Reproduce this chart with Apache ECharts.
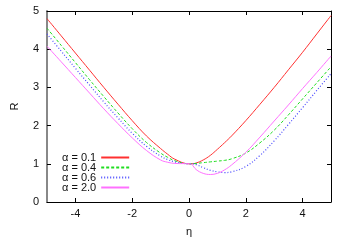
<!DOCTYPE html>
<html>
<head>
<meta charset="utf-8">
<script src="https://cdn.jsdelivr.net/npm/echarts@6/dist/echarts.min.js"></script>
<style>html,body{margin:0;padding:0;background:#fff}#c{width:346px;height:242px}</style>
</head>
<body>
<div id="c"></div>
<script>
const eta = [-5,-4.5,-4,-3.5,-3,-2.5,-2,-1.5,-1,-0.75,-0.5,0,0.1,0.25,0.5,0.75,1,1.25,1.5,2,2.5,3,3.5,4,4.5,5];
const r01 = [4.8,4.35,3.9,3.45,3.0,2.56,2.13,1.73,1.4,1.25,1.12,1.0,1.0,1.02,1.1,1.22,1.38,1.55,1.73,2.13,2.56,3.0,3.46,3.92,4.4,4.88];
const r04 = [4.55,4.1,3.65,3.2,2.76,2.33,1.92,1.56,1.28,1.17,1.08,1.0,1.0,1.01,1.03,1.05,1.07,1.09,1.13,1.28,1.55,1.88,2.28,2.7,3.12,3.54];
const r06 = [4.4,3.95,3.5,3.06,2.62,2.2,1.8,1.46,1.2,1.11,1.05,1.0,1.0,0.98,0.9,0.83,0.79,0.77,0.79,0.93,1.22,1.6,2.03,2.47,2.92,3.36];
const r20 = [4.08,3.67,3.26,2.85,2.44,2.05,1.68,1.35,1.1,1.04,1.01,1.0,0.98,0.85,0.75,0.72,0.75,0.84,0.97,1.3,1.7,2.12,2.54,2.97,3.39,3.82];
const seriesNames = ['α = 0.1','α = 0.4','α = 0.6','α = 2.0'];
const xTicks = [-4,-2,0,2,4];
const yTicks = [0,1,2,3,4,5];

const pairs = a => eta.map((x,i)=>[x,a[i]]);
const font = 'Liberation Sans, Arial, sans-serif';
const chart = echarts.init(document.getElementById('c'));
const mk = (name, data, color, type, w) => ({
  name, type:'line', data: pairs(data), symbol:'none', showSymbol:false, smooth:0.4,
  lineStyle:{color, width:w, type}, itemStyle:{color}, xAxisIndex:0, yAxisIndex:0
});
chart.setOption({
  animation:false,
  grid:{left:47, right:15, top:11, bottom:31},
  legend:{
    data:seriesNames, orient:'vertical', left:57, top:147, align:'right',
    itemWidth:28, itemHeight:8, itemGap:-1,
    itemStyle:{opacity:0},
    textStyle:{fontFamily:font, fontSize:11, color:'#111'}
  },
  xAxis:[{
    type:'value', min:-5, max:5, position:'bottom',
    name:'η', nameLocation:'middle', nameGap:24,
    nameTextStyle:{fontFamily:font, fontSize:11, color:'#111'},
    axisLine:{show:true, lineStyle:{color:'#000', width:1}},
    axisTick:{show:true, inside:true, length:4, customValues:xTicks, lineStyle:{color:'#000'}},
    axisLabel:{customValues:xTicks, margin:6, fontFamily:font, fontSize:11, color:'#111'},
    splitLine:{show:false}
  },{
    type:'value', min:-5, max:5, position:'top',
    axisLine:{show:true, onZero:false, lineStyle:{color:'#000', width:1}},
    axisTick:{show:true, inside:true, length:4, customValues:xTicks, lineStyle:{color:'#000'}},
    axisLabel:{show:false}, splitLine:{show:false}
  }],
  yAxis:[{
    type:'value', min:0, max:5, interval:1, position:'left',
    name:'R', nameLocation:'middle', nameGap:27,
    nameTextStyle:{fontFamily:font, fontSize:11, color:'#111'},
    axisLine:{show:true, onZero:false, lineStyle:{color:'#888', width:2}},
    axisTick:{show:true, inside:true, length:4, lineStyle:{color:'#000'}},
    axisLabel:{margin:8, fontFamily:font, fontSize:11, color:'#111', formatter: v => yTicks.includes(v) ? String(v) : ''},
    splitLine:{show:false}
  },{
    type:'value', min:0, max:5, interval:1, position:'right',
    axisLine:{show:true, onZero:false, lineStyle:{color:'#000', width:1}},
    axisTick:{show:true, inside:true, length:4, lineStyle:{color:'#000'}},
    axisLabel:{show:false}, splitLine:{show:false}
  }],
  series:[
    mk(seriesNames[0], r01, '#ff3030', 'solid', 1),
    mk(seriesNames[1], r04, '#20dd20', [3,2], 1),
    mk(seriesNames[2], r06, '#4a4aff', [1,2], 1.2),
    mk(seriesNames[3], r20, '#ff70ff', 'solid', 1)
  ]
});
</script>
</body>
</html>
